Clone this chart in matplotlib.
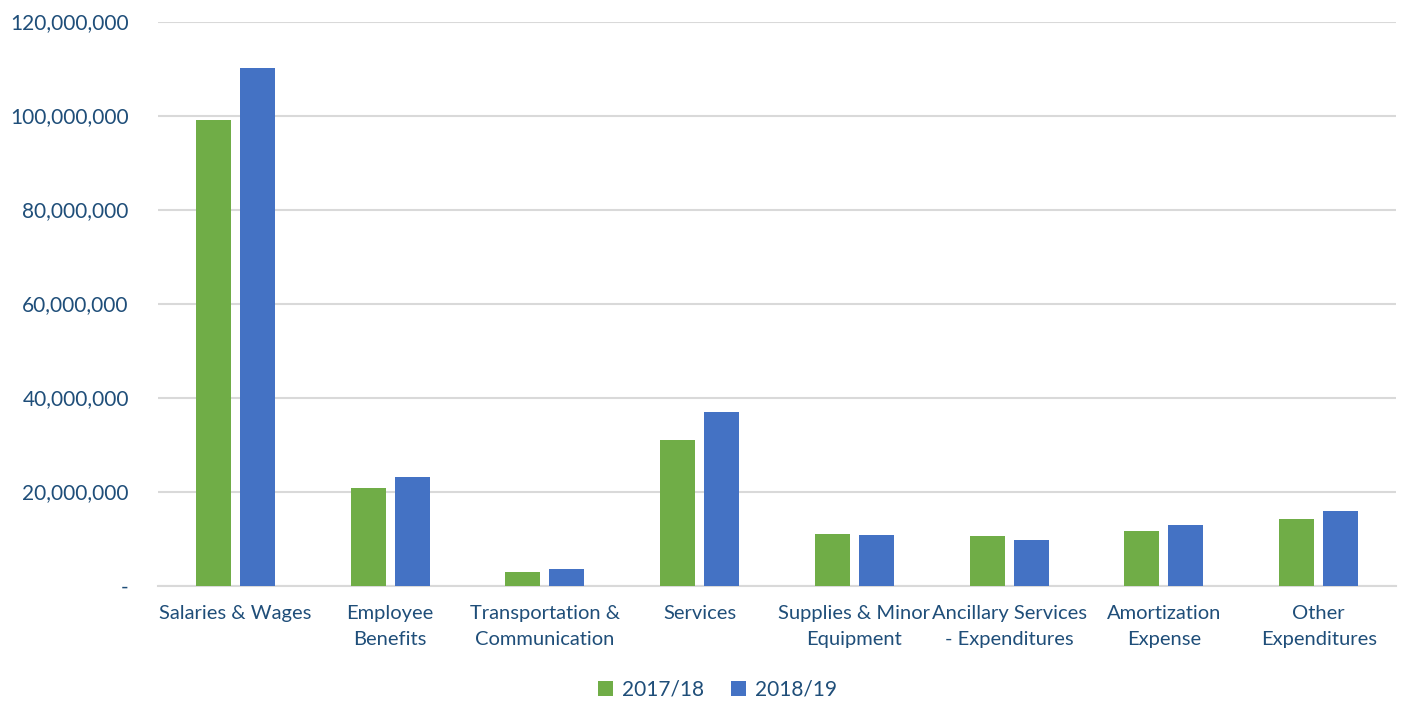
import matplotlib.pyplot as plt
import numpy as np
from matplotlib.ticker import FuncFormatter

categories = ['Salaries & Wages', 'Employee\nBenefits', 'Transportation &\nCommunication',
              'Services', 'Supplies & Minor\nEquipment', 'Ancillary Services\n- Expenditures',
              'Amortization\nExpense', 'Other\nExpenditures']
fy2017 = [99.0e6, 20.7e6, 2.9e6, 30.9e6, 10.9e6, 10.5e6, 11.7e6, 14.1e6]
fy2018 = [110.1e6, 23.0e6, 3.5e6, 36.9e6, 10.7e6, 9.6e6, 12.9e6, 15.9e6]
series_names = ['2017/18', '2018/19']

plt.rcParams['font.family'] = ['Lato', 'DejaVu Sans']
txt = '#1F4E79'

fig = plt.figure(figsize=(14.06, 7.03), dpi=100)
ax = fig.add_axes([0.1124, 0.1671, 0.8805, 0.8023])

x = np.arange(len(categories))
w = 0.226
ax.bar(x - 0.142, fy2017, w, color='#70AD47', label=series_names[0], zorder=3)
ax.bar(x + 0.142, fy2018, w, color='#4472C4', label=series_names[1], zorder=3)

ax.set_xlim(-0.5, len(categories) - 0.5)
ax.set_ylim(0, 120e6)
ax.set_yticks(np.arange(0, 120e6 + 1, 20e6))
ax.yaxis.set_major_formatter(FuncFormatter(lambda v, p: '-' if v == 0 else f'{v:,.0f}'))
ax.set_xticks(x)
ax.set_xticklabels(categories, linespacing=1.65)
ax.tick_params(axis='y', length=0, labelsize=15, labelcolor=txt, pad=21)
ax.tick_params(axis='x', length=0, labelsize=14.5, labelcolor=txt, pad=14)
ax.grid(axis='y', color='#D9D9D9', linewidth=1.5, zorder=0)
for s in ['top', 'right', 'left']:
    ax.spines[s].set_visible(False)
ax.spines['bottom'].set_color('#D9D9D9')
ax.spines['bottom'].set_linewidth(1.5)

leg = fig.legend(loc='center', bbox_to_anchor=(0.51, 0.0185), ncol=2, frameon=False,
                 fontsize=15, handlelength=0.75, handleheight=0.75, handletextpad=0.4,
                 columnspacing=1.3)
for t in leg.get_texts():
    t.set_color(txt)

fig.savefig('out.png', dpi=100)
